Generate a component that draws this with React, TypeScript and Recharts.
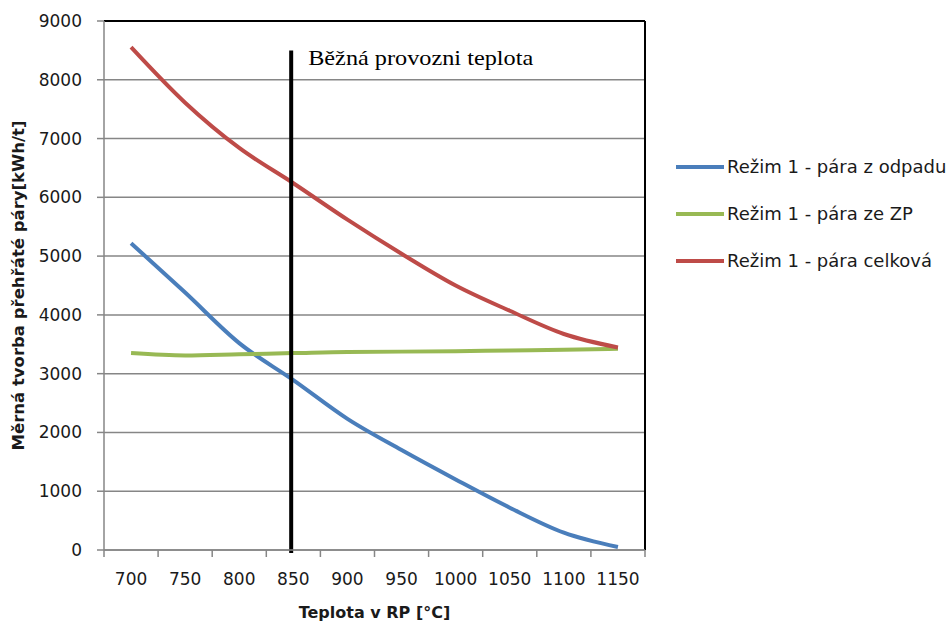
import React from 'react';
import { LineChart, Line, XAxis, YAxis, CartesianGrid, Legend, ReferenceLine } from 'recharts';

// temperature in RP [°C]
const temperatures = [700, 750, 800, 850, 900, 950, 1000, 1050, 1100, 1150];
const bandEdges = [675, 725, 775, 825, 875, 925, 975, 1025, 1075, 1125, 1175];

// kWh/t
const steamFromWaste = [5220, 4380, 3520, 2890, 2230, 1700, 1200, 720, 295, 50];
const steamFromGas = [3350, 3310, 3330, 3350, 3370, 3375, 3380, 3395, 3405, 3425];
const steamTotal = [8555, 7610, 6840, 6240, 5620, 5040, 4500, 4070, 3675, 3445];

const yTicks = [0, 1000, 2000, 3000, 4000, 5000, 6000, 7000, 8000, 9000];

const seriesNames = ['Režim 1 - pára z odpadu', 'Režim 1 - pára ze ZP', 'Režim 1 - pára celková'];
const seriesColors = ['#4a7ebb', '#98b954', '#be4b48'];

const operatingTemp = 848;
const operatingTop = 8500;
const operatingLabel = 'Běžná provozni teplota';

const data = temperatures.map((t, i) => ({
  t,
  waste: steamFromWaste[i],
  gas: steamFromGas[i],
  total: steamTotal[i],
}));

const W = 947;
const H = 622;
const MARGIN = { top: 21, right: 302, bottom: 0, left: 0 };
const Y_AXIS_W = 104;
// half of one temperature band in px, labels sit in the middle of the band
const halfBand = (W - MARGIN.right - MARGIN.left - Y_AXIS_W) / (temperatures.length * 2);

const axisGray = '#868686';
const tickFont = { fontFamily: 'DejaVu Sans', fontSize: 17, fill: '#1a1a1a' };

// tick marks sit on the band edges, the label goes to the band on the right
const BandTick = ({ x, y, payload, index }: any) => {
  if (index >= temperatures.length) return <g />;
  return (
    <text x={x + halfBand} y={y} dy="0.71em" textAnchor="middle" {...tickFont}>
      {temperatures[index] ?? payload.value}
    </text>
  );
};

// legend keeps the series order (recharts would sort it by name)
const LegendContent = () => (
  <div style={{ fontFamily: 'DejaVu Sans', fontSize: 18, color: '#1a1a1a' }}>
    {seriesNames.map((name, i) => (
      <div key={name} style={{ display: 'flex', alignItems: 'center', height: 47 }}>
        <span style={{ display: 'inline-block', width: 48, height: 4, background: seriesColors[i], marginRight: 3 }} />
        <span style={{ whiteSpace: 'nowrap' }}>{name}</span>
      </div>
    ))}
  </div>
);

const OperatingLabel = ({ viewBox }: any) => (
  <text
    x={viewBox.x + 17}
    y={viewBox.y + 15}
    fontFamily="Liberation Serif"
    fontSize={22}
    textLength={225}
    lengthAdjust="spacingAndGlyphs"
    fill="#000"
  >
    {operatingLabel}
  </text>
);

export default function App() {
  return (
    <div>
      <style>{'body{margin:0;}'}</style>
      <LineChart width={W} height={H} data={data} margin={MARGIN}>
        <CartesianGrid vertical={false} stroke={axisGray} strokeWidth={1.5} />
        <XAxis
          type="number"
          dataKey="t"
          domain={[675, 1175]}
          ticks={bandEdges}
          interval={0}
          height={72}
          tickSize={7}
          tickMargin={16}
          stroke={axisGray}
          strokeWidth={1.5}
          tick={<BandTick />}
          label={{
            value: 'Teplota v RP [°C]',
            position: 'insideBottom',
            offset: 4,
            style: { fontFamily: 'DejaVu Sans', fontSize: 16, fontWeight: 'bold', fill: '#1a1a1a' },
          }}
        />
        <YAxis
          domain={[0, 9000]}
          ticks={yTicks}
          interval={0}
          width={Y_AXIS_W}
          tickSize={7}
          tickMargin={15}
          stroke={axisGray}
          strokeWidth={1.5}
          tick={tickFont}
          label={{
            value: 'Měrná tvorba přehřáté páry[kWh/t]',
            angle: -90,
            position: 'insideLeft',
            offset: 18,
            style: { textAnchor: 'middle', fontFamily: 'DejaVu Sans', fontSize: 16.5, fontWeight: 'bold', fill: '#1a1a1a' },
          }}
        />
        <ReferenceLine y={9000} stroke="#000" strokeWidth={2} />
        <ReferenceLine x={1175} stroke="#000" strokeWidth={2} />
        <Legend
          layout="vertical"
          align="center"
          verticalAlign="middle"
          wrapperStyle={{ left: 676, top: 143, width: 271 }}
          content={<LegendContent />}
        />
        <Line
          type="monotone"
          dataKey="waste"
          name={seriesNames[0]}
          stroke={seriesColors[0]}
          strokeWidth={4}
          dot={false}
          isAnimationActive={false}
        />
        <Line
          type="monotone"
          dataKey="gas"
          name={seriesNames[1]}
          stroke={seriesColors[1]}
          strokeWidth={4}
          dot={false}
          isAnimationActive={false}
        />
        <Line
          type="monotone"
          dataKey="total"
          name={seriesNames[2]}
          stroke={seriesColors[2]}
          strokeWidth={4}
          dot={false}
          isAnimationActive={false}
        />
        <ReferenceLine
          segment={[
            { x: operatingTemp, y: operatingTop },
            { x: operatingTemp, y: -50 },
          ]}
          ifOverflow="visible"
          stroke="#000"
          strokeWidth={4}
          label={<OperatingLabel />}
        />
      </LineChart>
    </div>
  );
}
